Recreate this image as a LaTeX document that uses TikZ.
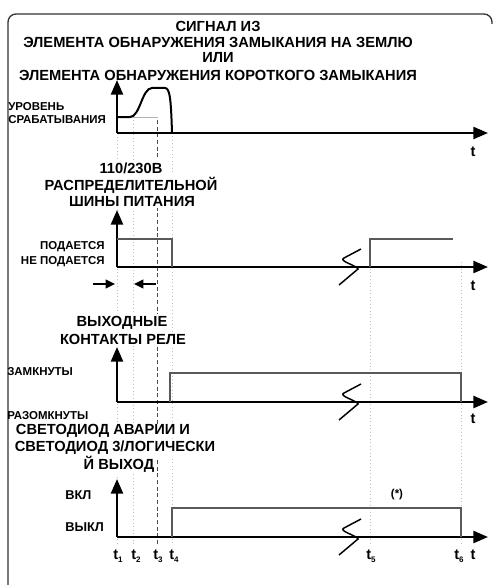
\documentclass[tikz,border=0pt]{standalone}
\usepackage{fontspec}
\setmainfont{Liberation Sans}
\usetikzlibrary{arrows.meta}
\newcommand{\tsub}[1]{\textbf{t}{\fontsize{6}{6}\selectfont\raisebox{-2.5pt}{#1}}}
\begin{document}
\begin{tikzpicture}[x=0.75pt,y=-0.75pt,
  ax/.style={line width=1.8pt, -{Triangle[length=11pt,width=9pt]}},
  small arrow/.style={line width=1.5pt, -{Triangle[length=7pt,width=6.5pt]}},
  pulse/.style={line width=0.8pt, draw=black!65},
  faint/.style={draw=black!25, line width=0.6pt, dotted},
  tthree/.style={draw=black!70, line width=0.7pt, dash pattern=on 3pt off 2pt},
  head/.style={font=\bfseries\fontsize{11}{13}\selectfont, fill=white, inner xsep=1pt, inner ysep=1.6pt},
  lab/.style={font=\bfseries\fontsize{8.6}{10}\selectfont, inner sep=0pt},
  big lab/.style={font=\bfseries\fontsize{9.6}{11}\selectfont, inner sep=0pt},
  tl/.style={font=\bfseries\fontsize{11}{13}\selectfont, inner sep=0pt},
  brk/.style={line width=1.1pt},
  frame/.style={draw=black!80, line width=1pt, rounded corners=6pt}
]
\useasboundingbox (0,0) rectangle (493,585);
% frame
\draw[frame] (8,600) -- (8,14) -- (492,14) -- (492,24);

% time marker lines
\draw[faint] (117,137) -- (117,545);
\draw[faint] (133,117) -- (133,545);
\draw[faint] (172,133) -- (172,545);
\draw[faint] (370,262) -- (370,545);
\draw[faint] (461,262) -- (461,545);
\draw[tthree] (157,120) -- (157,545);

% headings
\node[head] (ti1) at (218,26) {СИГНАЛ ИЗ};
\node[head] (ti2) at (218,42) {ЭЛЕМЕНТА ОБНАРУЖЕНИЯ ЗАМЫКАНИЯ НА ЗЕМЛЮ};
\node[head] (ti3) at (218,58) {ИЛИ};
\node[head] (ti4) at (218,75) {ЭЛЕМЕНТА ОБНАРУЖЕНИЯ КОРОТКОГО ЗАМЫКАНИЯ};
\node[head] (h21) at (131,168) {110/230В};
\node[head] (h22) at (131,185) {РАСПРЕДЕЛИТЕЛЬНОЙ};
\node[head] (h23) at (132,201) {ШИНЫ ПИТАНИЯ};
\node[head] (h31) at (122,323) {ВЫХОДНЫЕ};
\node[head] (h32) at (123,339) {КОНТАКТЫ РЕЛЕ};
\node[head, inner ysep=0pt] (h41) at (103,431) {СВЕТОДИОД АВАРИИ И};
\node[head] (h42) at (115,448) {СВЕТОДИОД 3/ЛОГИЧЕСКИ};
\node[head] (h43) at (119,464) {Й ВЫХОД};

% level labels
\node[lab, anchor=west] (l11) at (8,107) {УРОВЕНЬ};
\node[lab, anchor=west] (l12) at (8,120) {СРАБАТЫВАНИЯ};
\node[lab, anchor=east] (l21) at (105,247) {ПОДАЕТСЯ};
\node[lab, anchor=east] (l22) at (105,262) {НЕ ПОДАЕТСЯ};
\node[lab, anchor=west] (l31) at (7,372) {ЗАМКНУТЫ};
\node[lab, anchor=west] (l32) at (7,416) {РАЗОМКНУТЫ};
\node[big lab, anchor=west] (l41) at (65,495) {ВКЛ};
\node[big lab, anchor=west] (l42) at (65,527) {ВЫКЛ};
\node[lab] (star) at (397,495) {(*)};

% axes
\coordinate (o1) at (117,133); \coordinate (y1) at (117,80); \coordinate (x1) at (488,133);
\coordinate (o2) at (117,267); \coordinate (y2) at (117,210); \coordinate (x2) at (488,267);
\coordinate (o3) at (117,402); \coordinate (y3) at (117,347); \coordinate (x3) at (488,402);
\coordinate (o4) at (117,537); \coordinate (y4) at (117,479); \coordinate (x4) at (488,537);
\foreach \i in {1,2,3,4}{
  \draw[ax] (o\i) -- (y\i);
  \draw[ax] (o\i) -- (x\i);
}
\node[tl] (ta1) at (473,152) {t};
\node[tl] (ta2) at (473,286) {t};
\node[tl] (ta3) at (473,419) {t};
\node[tl] (ta4) at (473,555) {t};

% signal 1
\draw[draw=black!30, line width=0.6pt] (117,117) -- (158,117);
\draw[line width=1.5pt, line join=round] (117,117) -- (130,117)
  .. controls (140,117) and (142,88) .. (152,88) -- (165,88)
  .. controls (170,88) and (171,100) .. (172,133);

% signal 2
\draw[pulse] (117,239) -- (172,239) -- (172,267);
\draw[pulse] (370,267) -- (370,239) -- (453,239);
\coordinate (a1) at (93,284); \coordinate (a2) at (115,284);
\coordinate (b1) at (156,284); \coordinate (b2) at (134,284);
\draw[small arrow] (a1) -- (a2);
\draw[small arrow] (b1) -- (b2);

% signal 3
\draw[pulse] (170,402) -- (170,373) -- (461,373) -- (461,402);
% signal 4
\draw[pulse] (172,537) -- (172,508) -- (461,508) -- (461,537);

% breaks
\foreach \yy in {267,402,537}{
  \draw[brk, shift={(0,\yy)}] (361,-18) -- (344,-9)
    .. controls (338,-6) and (356,-2) .. (358,2) -- (339,18);
}

% time labels
\node[tl] (tt1) at (118,556) {\tsub{1}};
\node[tl] (tt2) at (136,556) {\tsub{2}};
\node[tl] (tt3) at (158,556) {\tsub{3}};
\node[tl] (tt4) at (174,556) {\tsub{4}};
\node[tl] (tt5) at (371,556) {\tsub{5}};
\node[tl] (tt6) at (459,556) {\tsub{6}};
\end{tikzpicture}
\end{document}
